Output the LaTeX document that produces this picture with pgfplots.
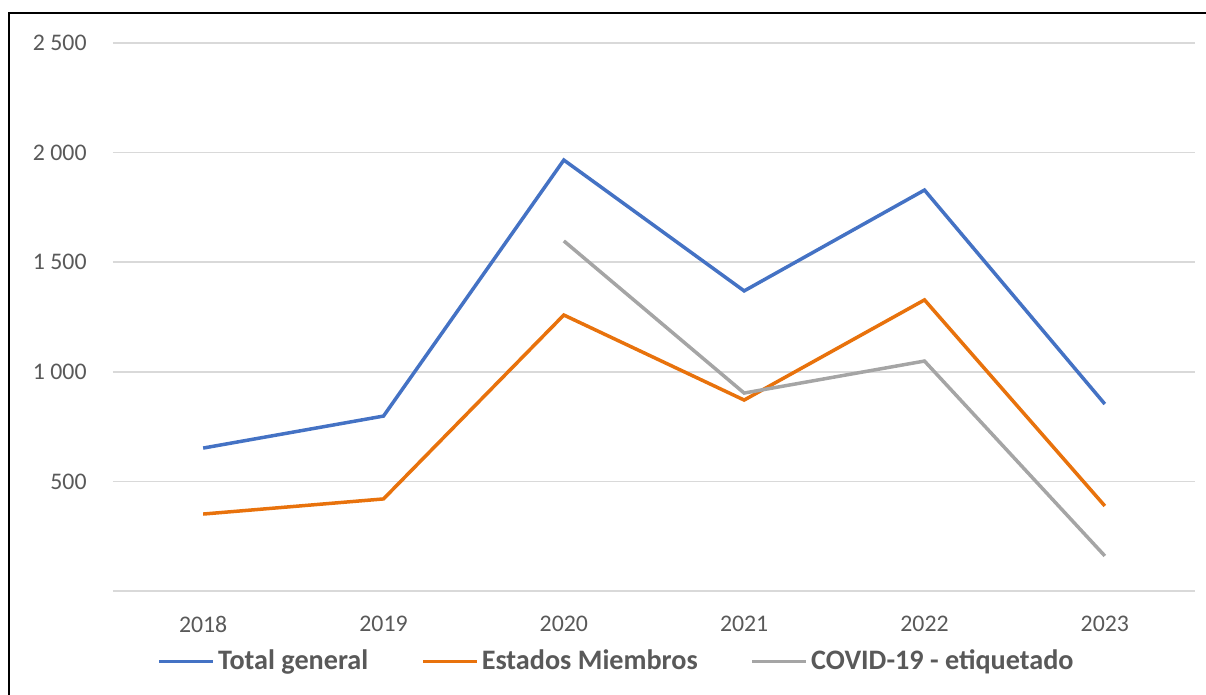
\documentclass[border=0pt]{standalone}
\usepackage{fontspec}
\setmainfont{Carlito}
\usepackage{pgfplots}
\pgfplotsset{compat=1.18}
\definecolor{cblue}{HTML}{4472C4}
\definecolor{corange}{HTML}{E8720C}
\definecolor{cgray}{HTML}{A5A5A5}
\definecolor{cgrid}{HTML}{D9D9D9}
\definecolor{ctext}{HTML}{595959}
\begin{document}
\begin{tikzpicture}
\useasboundingbox (0,0) rectangle (603pt,347.5pt);
\draw[line width=1pt] (4.25pt,-10pt) |- (620pt,341pt);
\begin{axis}[
  at={(56.5pt,52pt)}, anchor=south west,
  scale only axis, width=541pt, height=274pt,
  xmin=-0.5, xmax=5.5, ymin=0, ymax=2500,
  axis line style={draw=none},
  major tick length=0pt,
  xtick={0,1,2,3,4,5},
  xticklabels={2018,2019,2020,2021,2022,2023},
  ytick={0,500,1000,1500,2000,2500},
  yticklabels={,500,1 000,1 500,2 000,2 500},
  ymajorgrids, grid style={cgrid, line width=0.75pt},
  /pgf/number format/assume math mode=true,
  tick label style={font=\fontsize{11.9}{14}\selectfont, text=ctext},
  yticklabel style={inner sep=0pt, anchor=east, xshift=-13pt},
  xticklabel style={inner sep=0pt, anchor=north, yshift=-12.5pt},
  legend columns=3,
  legend style={at={(0.4645,-0.1285)}, anchor=center, draw=none, fill=none,
    font=\fontsize{14.1}{16}\selectfont\bfseries, text=ctext,
    nodes={inner sep=0pt},
    /tikz/every even column/.append style={column sep=26.5pt}},
  legend image code/.code={\draw[#1, line width=1.75pt] (0pt,0pt) -- (27pt,0pt); \path (28.5pt,0pt);},
]
\addplot[cblue, line width=1.75pt] coordinates {(0,652) (1,798) (2,1966) (3,1369) (4,1829) (5,853)};
\addlegendentry{Total general}
\addplot[corange, line width=1.75pt] coordinates {(0,351) (1,420) (2,1259) (3,871) (4,1328) (5,388)};
\addlegendentry{Estados Miembros}
\addplot[cgray, line width=1.75pt] coordinates {(2,1597) (3,903) (4,1049) (5,160)};
\addlegendentry{COVID-19 - etiquetado}
\end{axis}
\end{tikzpicture}
\end{document}
